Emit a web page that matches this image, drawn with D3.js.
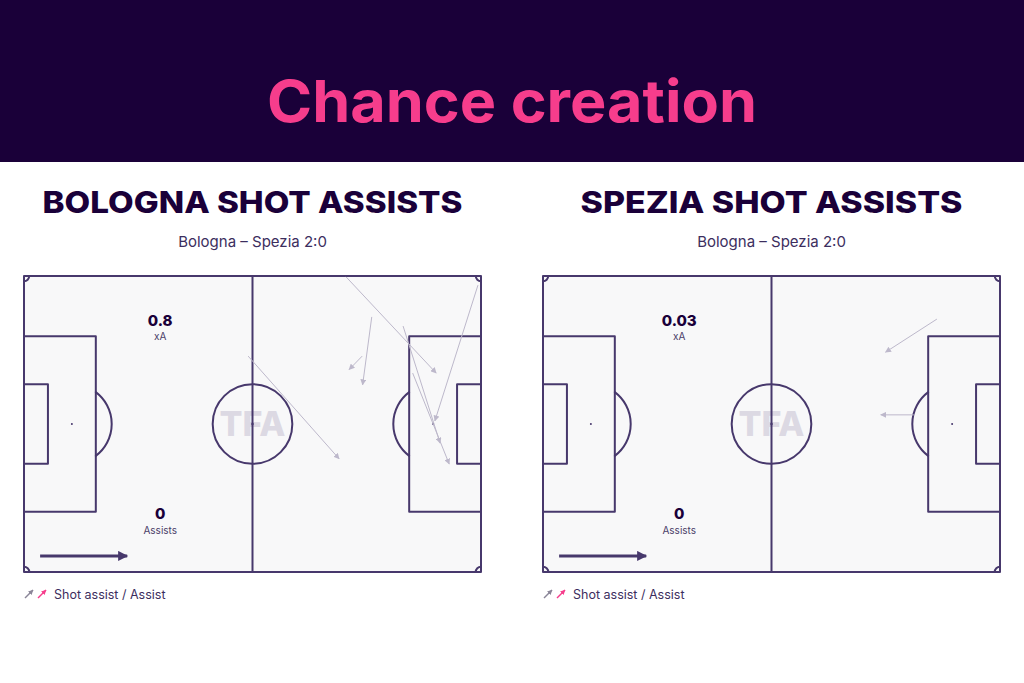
<!DOCTYPE html>
<html><head><meta charset="utf-8">
<script src="https://cdn.jsdelivr.net/npm/d3@7"></script>
<style>
html,body{margin:0;padding:0;background:#fff;}
svg{display:block;}
</style></head>
<body>
<svg id="chart" width="1024" height="683"></svg>
<script>
// ---- data ----
const chartTitle = "Chance creation";
const panelTitles = ["BOLOGNA SHOT ASSISTS", "SPEZIA SHOT ASSISTS"];
const matchLabel = "Bologna – Spezia 2:0";
const xAValues = ["0.8", "0.03"];
const assistCounts = ["0", "0"];
// shot assists in pitch metres: [xStart, yStart, xEnd, yEnd]
const bolognaShotAssists = [
  [74.0, 0.2, 94.7, 22.3],
  [79.9, 9.4, 77.8, 25.0],
  [77.7, 18.4, 74.7, 21.5],
  [51.5, 18.4, 72.4, 42.0],
  [104.3, 2.1, 94.4, 33.3],
  [87.1, 11.5, 95.6, 38.4],
  [89.3, 22.3, 97.7, 43.2]
];
const speziaShotAssists = [
  [90.5, 9.9, 78.7, 17.5],
  [85.2, 31.9, 77.6, 31.9]
];
const legendLabel = "Shot assist / Assist";

// ---- styles ----
const dark = "#1a0039";
const pink = "#f63d8c";
const lineCol = "#47386c";
const arrowCol = "#bdb8cb";
const fontBody = "Inter, 'Open Sans', sans-serif";

const svg = d3.select("#chart");

svg.append("rect").attr("x",0).attr("y",0).attr("width",1024).attr("height",162).attr("fill",dark);
svg.append("text").attr("x",512).attr("y",122).attr("text-anchor","middle")
  .attr("font-family",fontBody).attr("font-weight",700).attr("font-size",58)
  .attr("fill",pink).attr("textLength",490).attr("lengthAdjust","spacingAndGlyphs")
  .text(chartTitle);

const defs = svg.append("defs");
function marker(id, col, w, h){
  defs.append("marker").attr("id",id).attr("viewBox","0 0 10 10")
    .attr("refX",9).attr("refY",5).attr("markerWidth",w).attr("markerHeight",h)
    .attr("markerUnits","userSpaceOnUse").attr("orient","auto")
    .append("path").attr("d","M0,0 L10,5 L0,10 z").attr("fill",col);
}
marker("ahGray", arrowCol, 6, 6);
marker("ahDir", lineCol, 12, 10);
marker("ahLegGray", "#8a8598", 5, 5);
marker("ahLegPink", pink, 5, 5);

const panels = [
  {x0: 24, title: panelTitles[0], xa: xAValues[0], as: assistCounts[0], data: bolognaShotAssists},
  {x0: 543, title: panelTitles[1], xa: xAValues[1], as: assistCounts[1], data: speziaShotAssists}
];

panels.forEach(p => {
  const x = d3.scaleLinear().domain([0,105]).range([p.x0, p.x0+457]);
  const y = d3.scaleLinear().domain([0,68]).range([276, 572]);
  const k = x(1) - x(0);
  const g = svg.append("g");
  const cx = x(52.5);

  // titles
  g.append("text").attr("x",cx).attr("y",213).attr("text-anchor","middle")
    .attr("font-family",fontBody).attr("font-weight",800).attr("font-size",30)
    .attr("fill",dark).attr("textLength", p.title.length>19 ? 420 : 382).attr("lengthAdjust","spacingAndGlyphs")
    .text(p.title);
  g.append("text").attr("x",cx).attr("y",247).attr("text-anchor","middle")
    .attr("font-family",fontBody).attr("font-size",15).attr("fill","#3c2e5e")
    .text(matchLabel);

  // pitch
  g.append("rect").attr("x",x(0)).attr("y",y(0)).attr("width",x(105)-x(0)).attr("height",y(68)-y(0))
    .attr("fill","#f8f8f9");
  // watermark
  g.append("text").attr("x",cx).attr("y",y(34)+12).attr("text-anchor","middle")
    .attr("font-family",fontBody).attr("font-weight",800).attr("font-size",34)
    .attr("fill","#dcd9e3").text("TFA");

  const pl = g.append("g").attr("fill","none").attr("stroke",lineCol).attr("stroke-width",2)
    .attr("stroke-linejoin","round");
  pl.append("rect").attr("x",x(0)).attr("y",y(0)).attr("width",x(105)-x(0)).attr("height",y(68)-y(0));
  pl.append("line").attr("x1",cx).attr("x2",cx).attr("y1",y(0)).attr("y2",y(68));
  pl.append("circle").attr("cx",cx).attr("cy",y(34)).attr("r",9.15*k);
  // boxes
  [[0,1],[105,-1]].forEach(([gx,dir])=>{
    const pb = d3.path();
    pb.moveTo(x(gx), y(34-20.16)); pb.lineTo(x(gx+dir*16.5), y(34-20.16));
    pb.lineTo(x(gx+dir*16.5), y(34+20.16)); pb.lineTo(x(gx), y(34+20.16));
    pl.append("path").attr("d",pb.toString());
    const ga = d3.path();
    ga.moveTo(x(gx), y(34-9.16)); ga.lineTo(x(gx+dir*5.5), y(34-9.16));
    ga.lineTo(x(gx+dir*5.5), y(34+9.16)); ga.lineTo(x(gx), y(34+9.16));
    pl.append("path").attr("d",ga.toString());
    const spotX = gx + dir*11;
    g.append("circle").attr("cx",x(spotX)).attr("cy",y(34)).attr("r",1).attr("fill",lineCol);
    // penalty arc outside box
    const a = Math.acos(5.5/9.15);
    const arc = d3.arc().innerRadius(9.15*k).outerRadius(9.15*k)
      .startAngle(dir>0 ? Math.PI/2 - a : -Math.PI/2 - a)
      .endAngle(dir>0 ? Math.PI/2 + a : -Math.PI/2 + a);
    pl.append("path").attr("transform",`translate(${x(spotX)},${y(34)})`).attr("d",arc());
  });
  // corner arcs
  [[0,0,Math.PI/2,Math.PI],[105,0,Math.PI,1.5*Math.PI],[0,68,0,Math.PI/2],[105,68,-Math.PI/2,0]].forEach(([qx,qy,s,e])=>{
    const arc = d3.arc().innerRadius(1.2*k).outerRadius(1.2*k).startAngle(s).endAngle(e);
    pl.append("path").attr("transform",`translate(${x(qx)},${y(qy)})`).attr("d",arc());
  });
  g.append("circle").attr("cx",cx).attr("cy",y(34)).attr("r",1.2).attr("fill",lineCol);

  // stats
  g.append("text").attr("x",x(31.3)).attr("y",y(11.4)).attr("text-anchor","middle")
    .attr("font-family",fontBody).attr("font-weight",800).attr("font-size",15).attr("fill",dark).text(p.xa);
  g.append("text").attr("x",x(31.3)).attr("y",y(14.8)).attr("text-anchor","middle")
    .attr("font-family",fontBody).attr("font-size",10).attr("fill","#4a3d68").text("xA");
  g.append("text").attr("x",x(31.3)).attr("y",y(55.8)).attr("text-anchor","middle")
    .attr("font-family",fontBody).attr("font-weight",800).attr("font-size",15).attr("fill",dark).text(p.as);
  g.append("text").attr("x",x(31.3)).attr("y",y(59.2)).attr("text-anchor","middle")
    .attr("font-family",fontBody).attr("font-size",10).attr("fill","#4a3d68").text("Assists");

  // direction arrow
  g.append("line").attr("x1",x(3.7)).attr("y1",y(64.3)).attr("x2",x(23.7)).attr("y2",y(64.3))
    .attr("stroke",lineCol).attr("stroke-width",3).attr("marker-end","url(#ahDir)");

  // shot assists
  g.selectAll("line.sa").data(p.data).join("line").attr("class","sa")
    .attr("x1",d=>x(d[0])).attr("y1",d=>y(d[1])).attr("x2",d=>x(d[2])).attr("y2",d=>y(d[3]))
    .attr("stroke",arrowCol).attr("stroke-width",1).attr("marker-end","url(#ahGray)");

  // legend
  const lx = x(0), ly = 594;
  g.append("line").attr("x1",lx+1).attr("y1",ly+4).attr("x2",lx+9).attr("y2",ly-4)
    .attr("stroke","#8a8598").attr("stroke-width",1.5).attr("marker-end","url(#ahLegGray)");
  g.append("line").attr("x1",lx+14).attr("y1",ly+4).attr("x2",lx+22).attr("y2",ly-4)
    .attr("stroke",pink).attr("stroke-width",1.5).attr("marker-end","url(#ahLegPink)");
  g.append("text").attr("x",lx+30).attr("y",ly+4.5).attr("font-family",fontBody)
    .attr("font-size",12.5).attr("fill","#3c2e5e").text(legendLabel);
});
</script>
</body></html>
